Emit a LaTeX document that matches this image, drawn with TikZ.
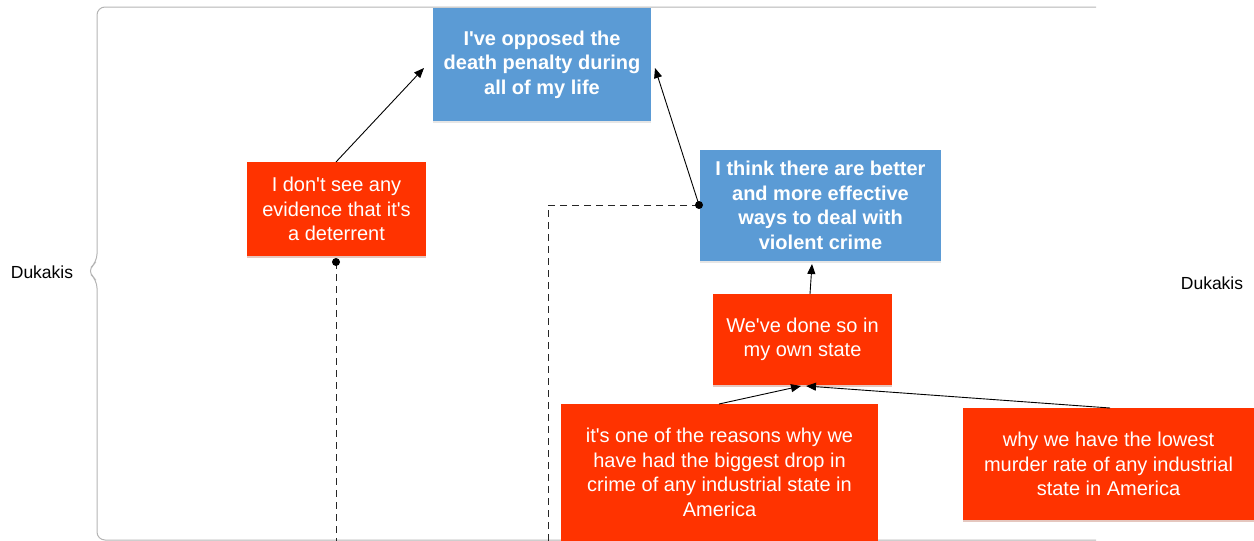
\documentclass[tikz,border=0pt]{standalone}
\usepackage{fontspec}
\setmainfont[Ligatures=TeXOff]{Liberation Sans}
\usetikzlibrary{arrows.meta,shadows}
\definecolor{redbox}{HTML}{FF3300}
\definecolor{bluebox}{HTML}{5B9BD5}
\definecolor{framegray}{HTML}{B4B4B4}
\begin{document}
\begin{tikzpicture}[x=1pt,y=1pt,
  redn/.style={fill=redbox,text=white,align=center,inner sep=0pt,
    font=\fontsize{20}{24.5}\selectfont,
    drop shadow={shadow xshift=0pt,shadow yshift=-2pt,opacity=0.25,fill=redbox!60!black}},
  bluen/.style={fill=bluebox,text=white,align=center,inner sep=0pt,
    font=\fontsize{20}{24.5}\selectfont\bfseries,
    drop shadow={shadow xshift=0pt,shadow yshift=-2pt,opacity=0.2,fill=gray}},
  arr/.style={draw=black,line width=0.9pt,-{Triangle[length=10pt,width=8pt]}},
  dashline/.style={draw=black!85,line width=1pt,dash pattern=on 7pt off 5pt},
  dotc/.style={circle,fill=black,inner sep=0pt,minimum size=8pt},
  lbl/.style={font=\fontsize{17.5}{20}\selectfont}]
\useasboundingbox (0,0) rectangle (1254,-541);
% frame
\draw[framegray,line width=1pt,rounded corners=8pt]
  (1096,-7) -- (97,-7) -- (97,-262) -- (87,-271) -- (97,-280) -- (97,-540) -- (1096,-540);
\node[lbl] (dl) at (42,-272) {Dukakis};
\node[lbl] (dr) at (1212,-283) {Dukakis};
% nodes
\node[bluen,minimum width=218pt,minimum height=113pt] (top) at (542,-64.5)
  {I've opposed the\\death penalty during\\all of my life};
\node[redn,minimum width=179pt,minimum height=94pt] (r1) at (336.5,-209)
  {I don't see any\\evidence that it's\\a deterrent};
\node[bluen,minimum width=241pt,minimum height=111pt] (b2) at (820.5,-205.5)
  {I think there are better\\and more effective\\ways to deal with\\violent crime};
\node[redn,minimum width=179pt,minimum height=91pt] (r2) at (802.5,-339.5)
  {We've done so in\\my own state};
\node[redn,minimum width=317pt,minimum height=137pt] (r3) at (719.5,-472.5)
  {it's one of the reasons why we\\have had the biggest drop in\\crime of any industrial state in\\America};
\node[redn,minimum width=291pt,minimum height=112pt] (r4) at (1108.5,-464)
  {why we have the lowest\\murder rate of any industrial\\state in America};
% coordinates
\coordinate (r1t) at (336,-162);
\coordinate (topL) at (424,-68);
\coordinate (topR) at (655,-68);
\coordinate (b2L) at (699,-205);
\coordinate (b2b) at (812,-264);
\coordinate (r2t) at (810,-294);
\coordinate (r2bL) at (801,-386);
\coordinate (r2bR) at (806,-386);
\coordinate (r3t) at (719,-404);
\coordinate (r4t) at (1110,-408);
\coordinate (r1b) at (336,-262);
\coordinate (d1) at (336,-541);
\coordinate (c2) at (548,-205);
\coordinate (d2) at (548,-541);
% connectors
\draw[dashline] (r1b) -- (d1);
\draw[dashline] (b2L) -- (c2) -- (d2);
\draw[arr] (r1t) -- (topL);
\draw[arr] (b2L) -- (topR);
\draw[arr] (r2t) -- (b2b);
\draw[arr] (r3t) -- (r2bL);
\draw[arr] (r4t) -- (r2bR);
\node[dotc] at (r1b) {};
\node[dotc] at (b2L) {};
\end{tikzpicture}
\end{document}
